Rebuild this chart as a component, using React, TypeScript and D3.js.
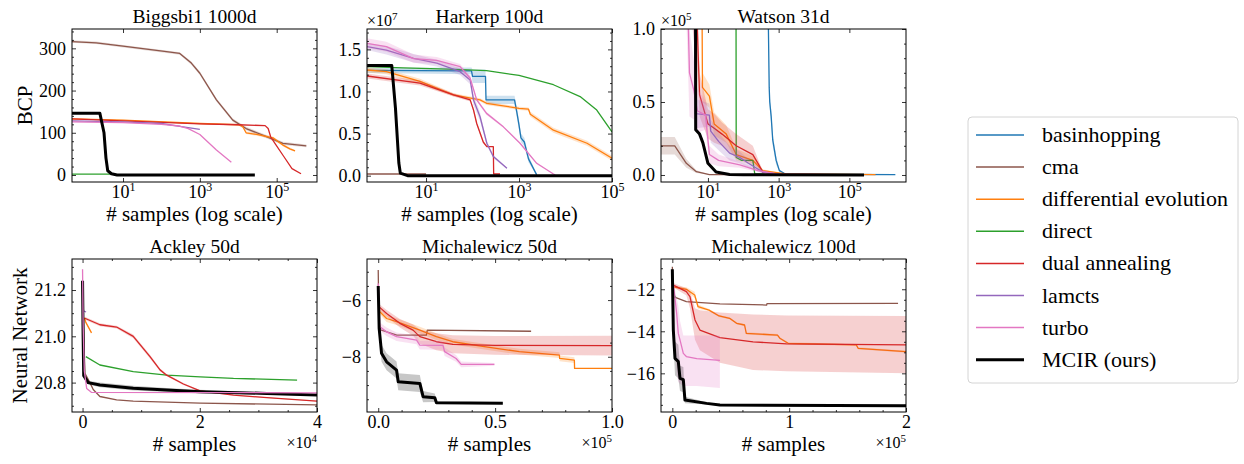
import { useEffect, useRef } from "react";
import * as d3 from "d3";

// each point: [x, y] or [x, y, spread] or [x, y, lo, hi]
type Pt = number[];

const methods = [
  "basinhopping",
  "cma",
  "differential evolution",
  "direct",
  "dual annealing",
  "lamcts",
  "turbo",
  "MCIR (ours)",
];
const methodColors = [
  "#1f77b4",
  "#8c564b",
  "#ff7f0e",
  "#2ca02c",
  "#d62728",
  "#9467bd",
  "#e377c2",
  "#000000",
];

// ---- Biggsbi1 1000d (BCP, log x) ----
const biggsCma: Pt[] = [[0.47, 316, 3], [2, 313, 3], [10, 305, 3], [135, 292, 3], [300, 288, 3], [600, 265, 4], [1000, 241, 4], [2700, 178, 4], [7200, 130, 4], [16000, 110, 4], [54000, 91, 4], [145000, 75, 4], [590000, 69, 3]];
const biggsDE: Pt[] = [[0.47, 133, 1], [10, 130, 1], [1000, 122, 1], [10000, 119, 1], [13000, 115, 2], [16000, 100, 3], [30000, 96, 3], [80000, 88, 3], [150000, 70, 3], [220000, 62, 3], [300000, 57, 2]];
const biggsDirect: Pt[] = [[0.47, 2], [5, 2]];
const biggsDA: Pt[] = [[0.47, 133], [10, 128], [1000, 121], [10000, 119], [50000, 117], [60000, 110], [70000, 90], [90000, 75], [150000, 45], [250000, 15], [430000, 3]];
const biggsLamcts: Pt[] = [[0.47, 128], [10, 126], [100, 122], [300, 115], [1000, 108]];
const biggsTurbo: Pt[] = [[0.47, 126], [10, 124], [100, 120], [300, 116], [500, 110], [1000, 96], [2700, 59], [6600, 30]];
const biggsMcir: Pt[] = [[0.47, 146], [2.5, 146], [3.2, 100], [3.6, 40], [4, 10], [5, 3], [7, 0], [27000, 0]];

// ---- Harkerp 100d (BCP in units of 1e7, log x) ----
const harkBasin: Pt[] = [[0.54, 1.25, 0.03], [95, 1.245, 0.04], [100, 1.18, 0.08], [190, 1.18, 0.08], [195, 0.9, 0.05], [800, 0.9, 0.05], [900, 0.75, 0.06], [1000, 0.6, 0.06], [1100, 0.45, 0.05], [1300, 0.4, 0.05], [1600, 0.2, 0.04], [2400, 0.01, 0.01]];
const harkCma: Pt[] = [[0.54, 0.02], [10, 0.02]];
const harkDE: Pt[] = [[0.54, 1.255, 0.03], [1.4, 1.235, 0.03], [7.4, 1.12, 0.03], [39, 0.96, 0.02], [145, 0.9, 0.02], [200, 0.86, 0.02], [1000, 0.8, 0.02], [1600, 0.79, 0.02], [1750, 0.73, 0.03], [5500, 0.54, 0.03], [29000, 0.385, 0.03], [100000, 0.207, 0.03]];
const harkDirect: Pt[] = [[0.54, 1.295], [3.25, 1.28], [30, 1.265], [200, 1.247], [1000, 1.19], [5500, 1.08], [20600, 0.94], [47000, 0.78], [100000, 0.52]];
const harkDA: Pt[] = [[0.54, 1.184, 0.03], [7.4, 1.1, 0.03], [39, 0.96, 0.02], [89, 0.9, 0.02], [105, 0.78, 0.02], [123, 0.62, 0.02], [170, 0.4, 0.02], [203, 0.345, 0], [280, 0.345, 0], [285, 0.02, 0], [390, 0.02, 0]];
const harkLamcts: Pt[] = [[0.54, 1.532, 0.04], [1.4, 1.49, 0.05], [5.4, 1.394, 0.05], [17, 1.336, 0.04], [54, 1.235, 0.04], [89, 1.137, 0.05], [105, 0.9, 0.06], [145, 0.7, 0.05], [203, 0.385, 0.03], [280, 0.227, 0.02], [550, 0.088, 0.01]];
const harkTurbo: Pt[] = [[0.54, 1.572, 0.06], [1.4, 1.532, 0.06], [5.4, 1.39, 0.05], [17, 1.37, 0.04], [54, 1.295, 0.03], [89, 1.157, 0.03], [123, 0.9, 0.02], [200, 0.74, 0.02], [460, 0.58, 0.01], [1050, 0.385, 0.01], [2400, 0.147, 0.01], [5500, 0.02, 0], [6000, 0.01, 0]];
const harkMcir: Pt[] = [[0.54, 1.31], [1.83, 1.31], [2.2, 0.8], [2.6, 0.15], [2.8, 0.03], [4, 0], [100000, 0]];

// ---- Watson 31d (BCP in units of 1e5, log x) ----
const watsBasin: Pt[] = [[480, 1.5, 0.05], [520, 0.9, 0.05], [540, 0.6, 0.05], [560, 0.5, 0.04], [615, 0.4, 0.05], [680, 0.24, 0.04], [850, 0.1, 0.03], [1050, 0.03, 0.01], [1600, 0.005, 0], [2000000, 0.002, 0]];
const watsCma: Pt[] = [[0.47, 0.2, 0.06], [1.15, 0.2, 0.06], [2.45, 0.08, 0.03], [4.7, 0.023, 0.01], [11, 0.003, 0], [1000, 0.002, 0]];
const watsDE: Pt[] = [[6.5, 2, 0.1], [7, 0.6, 0.1], [11, 0.54, 0.08], [15, 0.35, 0.08], [33, 0.28, 0.06], [63, 0.14, 0.04], [186, 0.1, 0.03], [355, 0.03, 0.01], [1600, 0.007, 0], [550000, 0.003, 0]];
const watsDirect: Pt[] = [[62, 1.5], [63, 0.12], [90, 0.1], [186, 0.1], [210, 0.01], [400, 0.005]];
const watsDA: Pt[] = [[3, 1.5, 0.3], [5, 1.0, 0.3], [5.8, 0.55, 0.15], [10, 0.35, 0.1], [15, 0.32, 0.1], [25, 0.28, 0.08], [63, 0.2, 0.08], [186, 0.14, 0.06], [260, 0.08, 0.03], [355, 0.02, 0.01], [1000, 0.005, 0], [20000, 0.002, 0]];
const watsLamcts: Pt[] = [[3.8, 2, 0.3], [4.4, 0.42, 0.1], [11, 0.41, 0.08], [12, 0.3, 0.08], [20, 0.23, 0.06], [41, 0.15, 0.05], [80, 0.12, 0.04], [140, 0.08, 0.03], [355, 0.02, 0.01], [1000, 0.005, 0]];
const watsTurbo: Pt[] = [[2.5, 1.5, 0.5], [3, 0.7, 0.3], [4, 0.58, 0.2], [5, 0.44, 0.15], [8.5, 0.41, 0.1], [11, 0.14, 0.06], [20, 0.1, 0.04], [80, 0.07, 0.02], [260, 0.03, 0.01], [1000, 0.005, 0], [57000, 0.002, 0]];
const watsMcir: Pt[] = [[4.4, 2.5], [4.5, 0.31], [5.8, 0.28], [7.2, 0.22], [10, 0.08], [17, 0.02], [41, 0.004], [100, 0.001], [260000, 0]];

// ---- Ackley 50d (Neural Network) ----
const ackCma: Pt[] = [[0, 21.2], [400, 20.84], [1250, 20.8], [1820, 20.77], [2960, 20.74], [5810, 20.725], [8650, 20.72], [20060, 20.711], [40000, 20.704]];
const ackDE: Pt[] = [[300, 21.08, 0.004], [560, 21.06, 0.004], [1530, 21.015, 0.004]];
const ackDirect: Pt[] = [[560, 20.912], [2960, 20.876], [8650, 20.847], [14360, 20.832], [20060, 20.825], [25750, 20.818], [36600, 20.811]];
const ackDA: Pt[] = [[390, 21.078, 0.006], [2960, 21.05, 0.006], [5810, 21.04, 0.006], [8650, 21.0, 0.008], [11510, 20.912, 0.008], [13220, 20.855, 0.006], [14360, 20.832, 0.005], [17200, 20.794, 0.004], [20060, 20.764, 0.003], [25750, 20.746, 0.002], [31460, 20.735, 0.002], [40000, 20.72, 0.002]];
const ackLamcts: Pt[] = [[0, 21.22], [150, 21.11], [600, 21.105]];
const ackTurbo: Pt[] = [[0, 21.29], [100, 21.05], [300, 20.85], [700, 20.775], [1500, 20.758], [40000, 20.756]];
const ackMcir: Pt[] = [[0, 21.24, 0.01], [100, 21.0, 0.02], [200, 20.83, 0.01], [960, 20.8, 0.008], [2960, 20.79, 0.01], [8650, 20.776, 0.01], [14360, 20.768, 0.009], [20060, 20.761, 0.008], [31460, 20.753, 0.005], [40000, 20.746, 0.003]];

// ---- Michalewicz 50d ----
const mi50Cma: Pt[] = [[0, -4.94], [300, -6.8], [1000, -7.05], [8000, -7.24], [20600, -7.24], [21000, -7.06], [65400, -7.1]];
const mi50DE: Pt[] = [[700, -6.41, 0.1], [3580, -6.65, 0.12], [7840, -6.76, 0.12], [17800, -7.06, 0.12], [24900, -7.29, 0.12], [31900, -7.47, 0.1], [46100, -7.65, 0.1], [60400, -7.82, 0.1], [77500, -7.94, 0.1], [77600, -8.06, 0.1], [83900, -8.12, 0.1], [84000, -8.41, 0], [100000, -8.41, 0]];
const mi50DA: Pt[] = [[400, -6.24, 0.1], [3580, -6.47, 0.12], [9270, -6.82, 0.15], [14900, -7.06, 0.2], [17800, -7.29, 0.25], [24900, -7.47, 0.3], [31900, -7.56, 0.32], [50000, -7.6, 0.33], [100000, -7.61, 0.35]];
const mi50Turbo: Pt[] = [[0, -5.41, 0.1], [700, -6.94, 0.15], [3580, -7.12, 0.15], [7840, -7.29, 0.15], [16400, -7.41, 0.15], [17800, -7.59, 0.15], [27700, -7.6, 0.15], [28400, -7.82, 0.15], [33300, -8.06, 0.12], [35500, -8.27, 0.1], [49700, -8.27, 0.05]];
const mi50Mcir: Pt[] = [[0, -5.5, 0], [400, -7.0, 0.2], [1000, -7.5, 0.3], [1420, -7.88, 0.3], [3580, -8.18, 0.3], [7840, -8.47, 0.3], [8550, -8.88, 0.3], [17800, -8.94, 0.3], [19200, -9.41, 0.2], [24200, -9.45, 0.15], [24900, -9.62, 0.05], [53300, -9.64, 0.02]];

// ---- Michalewicz 100d ----
const mi100Cma: Pt[] = [[0, -10.93], [850, -12.35], [12000, -12.59], [40700, -12.7], [80700, -12.75], [81000, -12.68], [193200, -12.67]];
const mi100DE: Pt[] = [[850, -11.88, 0.05], [12000, -12.0, 0.1], [19100, -12.27, 0.15], [22000, -12.83, 0.1], [31400, -12.99, 0.05], [40000, -13.27, 0.05], [49000, -13.38, 0.05], [55000, -13.62, 0.05], [61800, -13.7, 0.05], [63300, -14.1, 0.05], [90000, -14.18, 0.05], [92000, -14.33, 0.05], [99100, -14.57, 0.05], [157500, -14.65, 0.05], [159000, -14.81, 0.05], [200000, -14.97, 0.05]];
const mi100Direct: Pt[] = [[500, -12.2], [3000, -12.4]];
const mi100DA: Pt[] = [[850, -11.8, -11.9, -11.7], [12000, -12.11, -12.3, -11.95], [15100, -12.35, -12.9, -12.1], [19400, -13.46, -14.4, -12.9], [23600, -13.94, -14.9, -13.0], [40700, -14.3, -15.5, -13.1], [69100, -14.5, -15.84, -13.2], [97800, -14.6, -15.9, -13.25], [200000, -14.65, -16.0, -13.27]];
const mi100Turbo: Pt[] = [[500, -11.57, -11.6, -11.5], [3700, -13.15, -16.0, -12.4], [5100, -14.1, -16.4, -12.8], [6550, -14.41, -16.5, -13.5], [9400, -15.05, -16.6, -14.2], [12000, -15.2, -16.6, -14.2], [20900, -15.3, -16.6, -14.2], [40700, -15.38, -16.7, -14.2]];
const mi100Mcir: Pt[] = [[0, -11.05, 0], [500, -12.8, 0.3], [850, -13.94, 0.5], [2280, -15.29, 0.8], [5130, -15.44, 0.8], [6550, -16.24, 0.6], [9400, -16.3, 0.6], [10800, -17.27, 0.15], [29300, -17.43, 0.05], [40700, -17.51, 0.03], [200000, -17.54, 0.02]];

const FONT = "Liberation Serif, Times New Roman, serif";

interface Panel {
  title: string;
  left: number;
  top: number;
  log: boolean;
  xDomain: [number, number];
  yDomain: [number, number];
  xTicks: number[];
  xMinorStep?: number;
  yTicks: number[];
  yMinorStep: number;
  xFmt: (d: number) => string;
  yFmt: (d: number) => string;
  xLabel: string;
  xOffset?: string;
  yOffset?: string;
  series: [number, Pt[]][];
}

const W = 245;
const H = 153;

const panels: Panel[] = [
  {
    title: "Biggsbi1 1000d", left: 72, top: 29, log: true,
    xDomain: [0.47, 1.12e6], yDomain: [-16.6, 345.8],
    xTicks: [10, 1e3, 1e5], yTicks: [0, 100, 200, 300], yMinorStep: 20,
    xFmt: String, yFmt: d3.format("d"), xLabel: "# samples (log scale)",
    series: [[1, biggsCma], [2, biggsDE], [3, biggsDirect], [4, biggsDA], [5, biggsLamcts], [6, biggsTurbo], [7, biggsMcir]],
  },
  {
    title: "Harkerp 100d", left: 367, top: 29, log: true,
    xDomain: [0.537, 1e5], yDomain: [-0.075, 1.742],
    xTicks: [10, 1e3, 1e5], yTicks: [0, 0.5, 1, 1.5], yMinorStep: 0.1,
    xFmt: String, yFmt: d3.format(".1f"), xLabel: "# samples (log scale)", yOffset: "7",
    series: [[0, harkBasin], [1, harkCma], [2, harkDE], [3, harkDirect], [4, harkDA], [5, harkLamcts], [6, harkTurbo], [7, harkMcir]],
  },
  {
    title: "Watson 31d", left: 661, top: 29, log: true,
    xDomain: [0.47, 4e6], yDomain: [-0.048, 1.0],
    xTicks: [10, 1e3, 1e5], yTicks: [0, 0.5, 1], yMinorStep: 0.1,
    xFmt: String, yFmt: d3.format(".1f"), xLabel: "# samples (log scale)", yOffset: "5",
    series: [[0, watsBasin], [1, watsCma], [2, watsDE], [3, watsDirect], [4, watsDA], [5, watsLamcts], [6, watsTurbo], [7, watsMcir]],
  },
  {
    title: "Ackley 50d", left: 72, top: 259, log: false,
    xDomain: [-1800, 40000], yDomain: [20.673, 21.334],
    xTicks: [0, 20000, 40000], xMinorStep: 5000, yTicks: [20.8, 21.0, 21.2], yMinorStep: 0.05,
    xFmt: (d) => String(d / 1e4), yFmt: d3.format(".1f"), xLabel: "# samples", xOffset: "4",
    series: [[1, ackCma], [2, ackDE], [3, ackDirect], [4, ackDA], [5, ackLamcts], [7, ackMcir], [6, ackTurbo]],
  },
  {
    title: "Michalewicz 50d", left: 367, top: 259, log: false,
    xDomain: [-4800, 100000], yDomain: [-9.95, -4.55],
    xTicks: [0, 50000, 100000], xMinorStep: 10000, yTicks: [-8, -6], yMinorStep: 0.5,
    xFmt: (d) => (d / 1e5).toFixed(1), yFmt: d3.format("d"), xLabel: "# samples", xOffset: "5",
    series: [[1, mi50Cma], [2, mi50DE], [4, mi50DA], [6, mi50Turbo], [7, mi50Mcir]],
  },
  {
    title: "Michalewicz 100d", left: 661, top: 259, log: false,
    xDomain: [-9700, 200000], yDomain: [-17.84, -10.56],
    xTicks: [0, 100000, 200000], xMinorStep: 20000, yTicks: [-16, -14, -12], yMinorStep: 0.5,
    xFmt: (d) => String(d / 1e5), yFmt: d3.format("d"), xLabel: "# samples", xOffset: "5",
    series: [[1, mi100Cma], [2, mi100DE], [3, mi100Direct], [4, mi100DA], [6, mi100Turbo], [7, mi100Mcir]],
  },
];

function minorTicks(domain: [number, number], step: number, majors: number[]) {
  const start = Math.ceil(domain[0] / step);
  const end = Math.floor(domain[1] / step);
  return d3
    .range(start, end + 1)
    .map((i) => +(i * step).toFixed(6))
    .filter((v) => !majors.some((m) => Math.abs(m - v) < step / 10));
}

const lo = (d: Pt) => (d.length === 4 ? d[2] : d.length === 3 ? d[1] - d[2] : d[1]);
const hi = (d: Pt) => (d.length === 4 ? d[3] : d.length === 3 ? d[1] + d[2] : d[1]);

function drawPanel(root: d3.Selection<SVGGElement, unknown, null, undefined>, p: Panel, idx: number) {
  const g = root.append("g").attr("transform", `translate(${p.left},${p.top})`);
  const x = p.log
    ? d3.scaleLog().domain(p.xDomain).range([0, W])
    : d3.scaleLinear().domain(p.xDomain).range([0, W]);
  const y = d3.scaleLinear().domain(p.yDomain).range([H, 0]);

  const clipId = `clip-${idx}`;
  g.append("clipPath").attr("id", clipId).append("rect").attr("width", W).attr("height", H);
  const plot = g.append("g").attr("clip-path", `url(#${clipId})`);

  p.series.forEach(([m, data]) => {
    const color = methodColors[m];
    if (data[0].length > 2) {
      const area = d3
        .area<Pt>()
        .x((d) => x(d[0]))
        .y0((d) => y(lo(d)))
        .y1((d) => y(hi(d)));
      plot.append("path").attr("d", area(data)).attr("fill", color).attr("fill-opacity", 0.22);
    }
    const line = d3
      .line<Pt>()
      .x((d) => x(d[0]))
      .y((d) => y(d[1]));
    plot
      .append("path")
      .attr("d", line(data))
      .attr("fill", "none")
      .attr("stroke", color)
      .attr("stroke-width", m === 7 ? 3 : 1.3)
      .attr("stroke-linejoin", "round");
  });

  // axes: ticks inside on all four sides
  const fixAxis = (a: d3.Selection<SVGGElement, unknown, null, undefined>) => {
    a.select(".domain").remove();
    a.attr("font-family", FONT).attr("font-size", 18);
    a.selectAll("line").attr("stroke", "#000").attr("stroke-width", 0.8);
  };

  const bottom = g
    .append("g")
    .attr("transform", `translate(0,${H})`)
    .call(d3.axisBottom(x as any).tickValues(p.xTicks).tickSizeInner(-4).tickSizeOuter(0).tickFormat(() => ""));
  fixAxis(bottom);
  bottom.selectAll<SVGTextElement, number>(".tick text").each(function (d) {
    const t = d3.select(this).attr("y", 16).attr("dy", null).attr("fill", "#000");
    if (p.log) {
      t.text("10");
      t.append("tspan").attr("dy", -7).attr("font-size", 12).text(String(Math.round(Math.log10(d))));
    } else {
      t.text(p.xFmt(d));
    }
  });
  const top = g
    .append("g")
    .call(d3.axisTop(x as any).tickValues(p.xTicks).tickSizeInner(-4).tickSizeOuter(0).tickFormat(() => ""));
  fixAxis(top);

  if (p.xMinorStep) {
    const mins = minorTicks(p.xDomain, p.xMinorStep, p.xTicks);
    const mb = g
      .append("g")
      .attr("transform", `translate(0,${H})`)
      .call(d3.axisBottom(x as any).tickValues(mins).tickSizeInner(-2).tickSizeOuter(0).tickFormat(() => ""));
    fixAxis(mb);
    const mt = g.append("g").call(d3.axisTop(x as any).tickValues(mins).tickSizeInner(-2).tickSizeOuter(0).tickFormat(() => ""));
    fixAxis(mt);
  }

  const left = g
    .append("g")
    .call(d3.axisLeft(y).tickValues(p.yTicks).tickSizeInner(-4).tickSizeOuter(0).tickPadding(6).tickFormat((d) => p.yFmt(+d)));
  fixAxis(left);
  left.selectAll("text").attr("fill", "#000").attr("dy", "0.33em");
  const right = g
    .append("g")
    .attr("transform", `translate(${W},0)`)
    .call(d3.axisRight(y).tickValues(p.yTicks).tickSizeInner(-4).tickSizeOuter(0).tickFormat(() => ""));
  fixAxis(right);

  const ymins = minorTicks(p.yDomain, p.yMinorStep, p.yTicks);
  const ml = g.append("g").call(d3.axisLeft(y).tickValues(ymins).tickSizeInner(-2).tickSizeOuter(0).tickFormat(() => ""));
  fixAxis(ml);
  const mr = g
    .append("g")
    .attr("transform", `translate(${W},0)`)
    .call(d3.axisRight(y).tickValues(ymins).tickSizeInner(-2).tickSizeOuter(0).tickFormat(() => ""));
  fixAxis(mr);

  g.append("rect").attr("width", W).attr("height", H).attr("fill", "none").attr("stroke", "#000").attr("stroke-width", 1);

  // title and labels
  g.append("text").attr("x", W / 2).attr("y", -6).attr("text-anchor", "middle").attr("font-size", 19.5).text(p.title);
  g.append("text").attr("x", W / 2).attr("y", H + 39).attr("text-anchor", "middle").attr("font-size", 21).text(p.xLabel);

  if (p.yOffset) {
    const t = g.append("text").attr("x", 0).attr("y", -3).attr("font-size", 16).text("×10");
    t.append("tspan").attr("dy", -6).attr("font-size", 11).text(p.yOffset);
  }
  if (p.xOffset) {
    const t = g.append("text").attr("x", W).attr("y", H + 36).attr("text-anchor", "end").attr("font-size", 16).text("×10");
    t.append("tspan").attr("dy", -6).attr("font-size", 11).text(p.xOffset);
  }
}

export default function App() {
  const svgRef = useRef<SVGSVGElement>(null);

  useEffect(() => {
    const svg = d3.select(svgRef.current);
    svg.selectAll("*").remove();
    const root = svg.append("g").attr("font-family", FONT).attr("font-size", 18).attr("fill", "#000");

    panels.forEach((p, i) => drawPanel(root, p, i));

    // row labels
    root
      .append("text")
      .attr("transform", "translate(32,105.5) rotate(-90)")
      .attr("text-anchor", "middle")
      .attr("font-size", 21)
      .text("BCP");
    root
      .append("text")
      .attr("transform", "translate(27,335.5) rotate(-90)")
      .attr("text-anchor", "middle")
      .attr("font-size", 21)
      .text("Neural Network");

    // legend
    const lg = root.append("g").attr("transform", "translate(968,117)");
    lg.append("rect")
      .attr("width", 270)
      .attr("height", 266)
      .attr("rx", 4)
      .attr("fill", "#fff")
      .attr("stroke", "#d4d4d4")
      .attr("stroke-width", 1);
    methods.forEach((name, i) => {
      const cy = 18 + i * 32.1;
      lg.append("line")
        .attr("x1", 8)
        .attr("x2", 56)
        .attr("y1", cy)
        .attr("y2", cy)
        .attr("stroke", methodColors[i])
        .attr("stroke-width", i === 7 ? 3 : 1.5);
      lg.append("text").attr("x", 74).attr("y", cy + 7).attr("font-size", 22).text(name);
    });
  }, []);

  return (
    <svg
      ref={svgRef}
      width={1244}
      height={464}
      style={{ position: "absolute", left: 0, top: 0, background: "#fff", fontFamily: FONT }}
    />
  );
}
